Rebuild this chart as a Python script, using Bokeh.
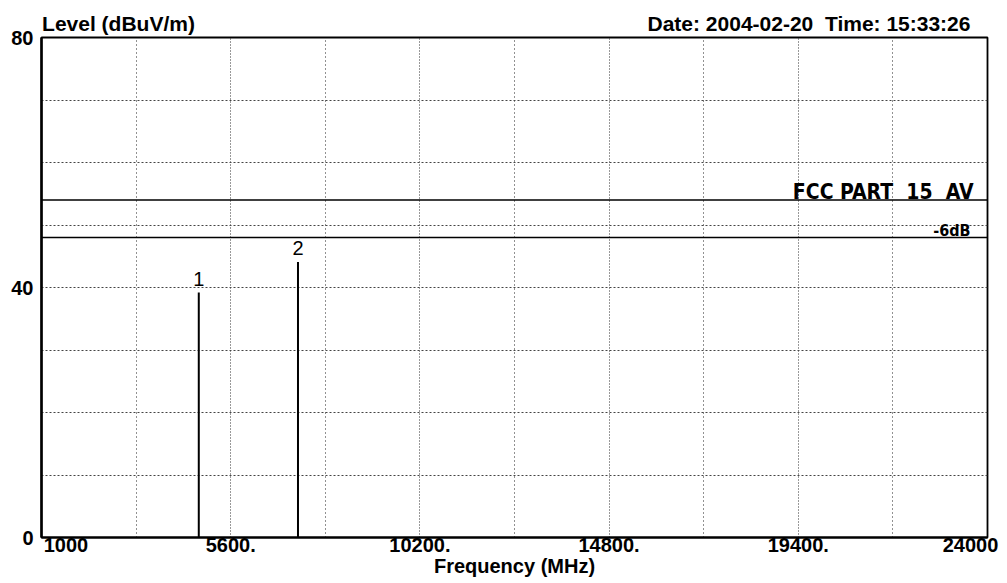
from bokeh.plotting import figure
from bokeh.models import FixedTicker, Range1d, LinearAxis
from bokeh.core.properties import value
from bokeh.embed import file_html
from bokeh.resources import INLINE

# ---- data ----
freq_start = 1000
freq_stop = 24000
level_min = 0
level_max = 80
x_tick_values = [1000, 5600, 10200, 14800, 19400, 24000]
x_tick_labels = ["1000", "5600.", "10200.", "14800.", "19400.", "24000"]
x_grid_minor = [3300, 7900, 12500, 17100, 21700]
y_tick_values = [0, 40, 80]
y_tick_labels = ["0", "40", "80"]
y_grid_values = [10, 20, 30, 40, 50, 60, 70]
limit_freq = [1000, 24000]
fcc_av_limit = [54, 54]
margin_limit = [48, 48]
limit_names = ["FCC PART\u00a0 15\u00a0 AV", "-6dB"]
marker_ids = ["1", "2"]
marker_freq = [4824, 7236]
marker_level = [39.2, 44.1]
y_title = "Level (dBuV/m)"
x_title = "Frequency (MHz)"
stamp = "Date: 2004-02-20\u00a0 Time: 15:33:26"

FONT = "Liberation Sans"
FONT_C = "DejaVu Sans Condensed"

frame_w, frame_h = 946, 500
px_x = (freq_stop - freq_start) / frame_w
px_y = (level_max - level_min) / frame_h

p = figure(width=1007, height=583, output_backend="svg", toolbar_location=None,
           x_range=Range1d(freq_start, freq_stop), y_range=Range1d(level_min, level_max),
           min_border_left=41, min_border_right=20, min_border_top=37, min_border_bottom=46)
p.background_fill_color = "white"
p.border_fill_color = "white"
p.outline_line_color = "black"
p.outline_line_width = 1.8

# grids
p.ygrid.ticker = FixedTicker(ticks=y_grid_values)
p.ygrid.grid_line_color = "#444444"
p.ygrid.grid_line_dash = "2 2"
p.ygrid.grid_line_width = 1
p.xgrid.ticker = FixedTicker(ticks=x_tick_values[1:-1], minor_ticks=x_grid_minor)
p.xgrid.grid_line_color = "#333333"
p.xgrid.grid_line_dash = "1 2"
p.xgrid.minor_grid_line_color = "#222222"
p.xgrid.minor_grid_line_dash = "1 3"

# x axis (end labels sit inside the frame edges, as in the reference)
x_label_pos = [x_tick_values[0] + 24.5 * px_x] + x_tick_values[1:-1] + [x_tick_values[-1] - 17 * px_x]
xa = p.xaxis[0]
xa.ticker = FixedTicker(ticks=x_label_pos)
xa.major_label_overrides = {v: t for v, t in zip(x_label_pos, x_tick_labels)}
xa.major_tick_out = 0
xa.major_tick_in = 0
xa.minor_tick_out = 0
xa.minor_tick_in = 0
xa.major_label_standoff = 0
xa.axis_label = x_title
xa.axis_label_standoff = 0
xa.axis_label_text_font = FONT
xa.axis_label_text_font_style = "bold"
xa.axis_label_text_font_size = "20px"
xa.axis_label_text_color = "black"
xa.major_label_text_font = FONT
xa.major_label_text_font_style = "bold"
xa.major_label_text_font_size = "20px"
xa.major_label_text_color = "black"
xa.axis_line_color = "black"
xa.axis_line_width = 1.8

# y axis
ya = p.yaxis[0]
ya.ticker = FixedTicker(ticks=y_tick_values)
ya.major_label_overrides = {v: t for v, t in zip(y_tick_values, y_tick_labels)}
ya.major_tick_out = 0
ya.major_tick_in = 0
ya.minor_tick_out = 0
ya.minor_tick_in = 0
ya.major_label_standoff = 8
ya.major_label_text_font = FONT
ya.major_label_text_font_style = "bold"
ya.major_label_text_font_size = "20px"
ya.major_label_text_color = "black"
ya.axis_line_color = "black"
ya.axis_line_width = 2.5

# header line: unit title on the left, date stamp on the right
head_pos = [freq_start + 77 * px_x, freq_start + 767.5 * px_x]
top = LinearAxis(ticker=FixedTicker(ticks=head_pos),
                 major_label_overrides={head_pos[0]: y_title, head_pos[1]: stamp},
                 axis_line_color=None, major_tick_out=0, major_tick_in=0,
                 minor_tick_out=0, minor_tick_in=0, major_label_standoff=3,
                 major_label_text_font=FONT, major_label_text_font_style="bold",
                 major_label_text_font_size="21px", major_label_text_color="black")
p.add_layout(top, "above")

# limit lines
p.line(limit_freq, fcc_av_limit, line_color="black", line_width=1.6)
p.line(limit_freq, margin_limit, line_color="black", line_width=1.6)
p.text(x=[freq_stop - 14 * px_x], y=[fcc_av_limit[0] - 4 * px_y], text=[limit_names[0]],
       text_align="right", text_baseline="bottom", text_font=value(FONT_C),
       text_font_style="bold", text_font_size="21px", text_color="black")
p.text(x=[freq_stop - 17 * px_x], y=[margin_limit[0] - 2 * px_y], text=[limit_names[1]],
       text_align="right", text_baseline="bottom", text_font=value(FONT_C),
       text_font_style="bold", text_font_size="16px", text_color="black")

# markers
p.segment(x0=marker_freq, y0=[level_min] * len(marker_freq), x1=marker_freq, y1=marker_level,
          line_color="black", line_width=2)
p.text(x=marker_freq, y=[l + 7 * px_y for l in marker_level], text=marker_ids,
       text_align="center", text_baseline="bottom", text_font=value(FONT),
       text_font_size="20px", text_color="black")

open("out.html", "w").write(file_html(p, INLINE))
